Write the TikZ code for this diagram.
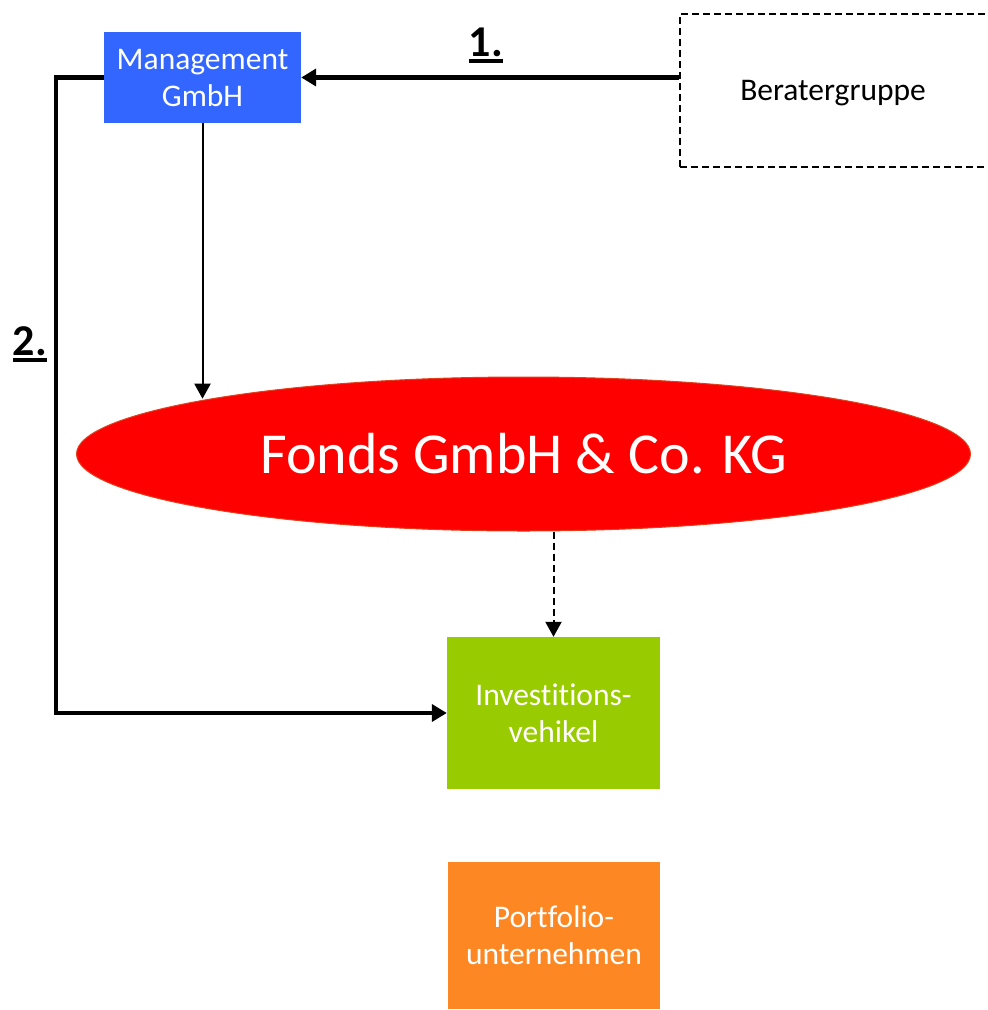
\documentclass[tikz,border=0pt]{standalone}
\usepackage{fontspec}
\setmainfont{Carlito}[RawFeature={-liga;-clig;-dlig}]
\usetikzlibrary{arrows.meta,shapes.geometric}
\newcommand\myul[1]{\leavevmode\vtop{\hbox{#1}\kern3pt\hrule height 3.5pt}}
\newcommand\nolig{\kern0pt}
\definecolor{mgmtblue}{HTML}{3366FF}
\definecolor{invgreen}{HTML}{99CC00}
\definecolor{portorange}{HTML}{FD8823}
\definecolor{fondsred}{HTML}{FF0000}
\definecolor{fondsedge}{HTML}{E0401E}
\begin{document}
\begin{tikzpicture}[x=1pt,y=-1pt,
  box/.style={rectangle, inner sep=0pt, text=white, align=center,
    font=\fontsize{31.5}{37}\selectfont},
  thickarrow/.style={line width=4.5pt, -{Triangle[length=15pt,width=17pt]}},
  thinarrow/.style={line width=2pt, -{Triangle[length=15pt,width=16pt]}},
  dasharrow/.style={line width=2pt, dash pattern=on 7pt off 4pt, -{Triangle[length=15pt,width=16pt]}},
  steplabel/.style={anchor=base, inner sep=0pt, font=\fontsize{44}{50}\selectfont\bfseries}
]
\useasboundingbox (0,0) rectangle (988,1010);
\clip (0,0) rectangle (988,1010);

\node[box, fill=mgmtblue, minimum width=197pt, minimum height=91pt] (mgmt) at (202.5,77.5) {Management\\GmbH};
\node[box, fill=invgreen, minimum width=213pt, minimum height=152pt] (inv) at (553.5,713) {Invest\nolig it\nolig ions-\\vehikel};
\node[box, fill=portorange, minimum width=212pt, minimum height=147pt] (port) at (554,935.5) {Port\nolig folio-\\unternehmen};
\node[ellipse, fill=fondsred, draw=fondsedge, line width=1pt, inner sep=0pt,
  minimum width=894pt, minimum height=154pt, text=white,
  font=\fontsize{58}{64}\selectfont] (fonds) at (523.5,454) {Fonds GmbH \& Co. KG};

\node[rectangle, draw, line width=2pt, dash pattern=on 7pt off 4pt,
  minimum width=340pt, minimum height=153pt] (beratbox) at (850,90.5) {};
\node[inner sep=0pt, font=\fontsize{31.5}{37}\selectfont] (berat) at (833,93) {Beratergruppe};

\draw[thickarrow] (beratbox.west |- mgmt.east) -- (mgmt.east);
\draw[thickarrow] (mgmt.west) -- ++(-48,0) |- (inv.west);
\draw[thinarrow] (mgmt.south) -- (mgmt.south |- fonds.170);
\draw[dasharrow] (inv.north |- fonds.south) -- (inv.north);

\node[steplabel] (l1) at (486,56) {\myul{1.}};
\node[steplabel] (l2) at (30,355) {\myul{2.}};
\end{tikzpicture}
\end{document}
